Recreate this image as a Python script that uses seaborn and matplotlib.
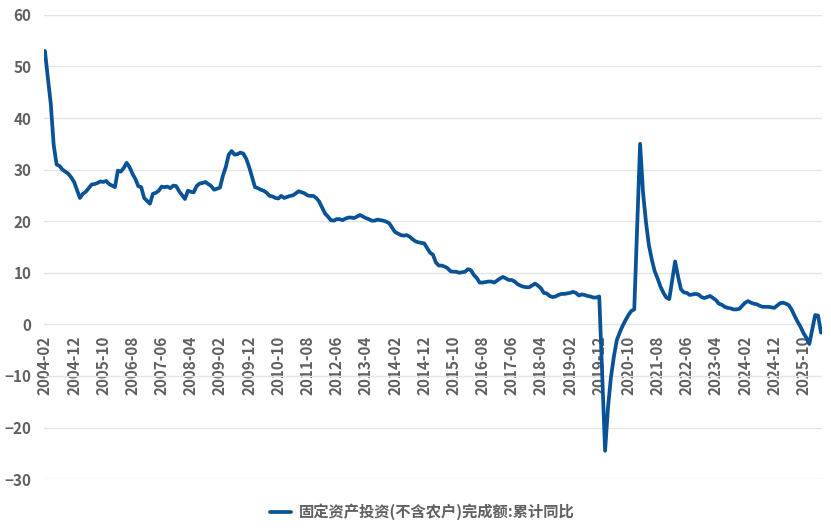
import pandas as pd
import matplotlib
matplotlib.use('Agg')
import matplotlib.pyplot as plt
import seaborn as sns

series_name = '固定资产投资(不含农户)完成额:累计同比'

# cumulative YoY (%), released Feb..Dec each year (January is merged into February)
years = list(range(2004, 2026))
release_months = list(range(2, 13))
yoy = [
    53.0, 47.8, 42.8, 34.8, 31.0, 30.7, 30.0, 29.6, 29.2, 28.5, 27.6,  # 2004
    24.5, 25.3, 25.7, 26.4, 27.1, 27.2, 27.4, 27.7, 27.6, 27.8, 27.2,  # 2005
    26.6, 29.8, 29.6, 30.3, 31.3, 30.5, 29.2, 28.2, 26.8, 26.6, 24.5,  # 2006
    23.4, 25.3, 25.5, 25.9, 26.7, 26.6, 26.7, 26.4, 26.9, 26.8, 25.8,  # 2007
    24.3, 25.9, 25.7, 25.6, 26.8, 27.3, 27.4, 27.6, 27.2, 26.8, 26.1,  # 2008
    26.5, 28.8, 30.5, 32.9, 33.6, 32.9, 33.0, 33.3, 33.1, 32.1, 30.5,  # 2009
    26.6, 26.4, 26.1, 25.9, 25.5, 24.9, 24.8, 24.5, 24.4, 24.9, 24.5,  # 2010
    24.9, 25.0, 25.4, 25.8, 25.6, 25.4, 25.0, 24.9, 24.9, 24.5, 23.8,  # 2011
    21.5, 20.9, 20.2, 20.1, 20.4, 20.4, 20.2, 20.5, 20.7, 20.7, 20.6,  # 2012
    21.2, 20.9, 20.6, 20.4, 20.1, 20.1, 20.3, 20.2, 20.1, 19.9, 19.6,  # 2013
    17.9, 17.6, 17.3, 17.2, 17.3, 17.0, 16.5, 16.1, 15.9, 15.8, 15.7,  # 2014
    13.9, 13.5, 12.0, 11.4, 11.4, 11.2, 10.9, 10.3, 10.2, 10.2, 10.0,  # 2015
    10.2, 10.7, 10.5, 9.6, 9.0, 8.1, 8.1, 8.2, 8.3, 8.3, 8.1,  # 2016
    8.9, 9.2, 8.9, 8.6, 8.6, 8.3, 7.8, 7.5, 7.3, 7.2, 7.2,  # 2017
    7.9, 7.5, 7.0, 6.1, 6.0, 5.5, 5.3, 5.4, 5.7, 5.9, 5.9,  # 2018
    6.1, 6.3, 6.1, 5.6, 5.8, 5.7, 5.5, 5.4, 5.2, 5.2, 5.4,  # 2019
    -24.5, -16.1, -10.3, -6.3, -3.1, -1.6, -0.3, 0.8, 1.8, 2.6, 2.9,  # 2020
    35.0, 25.6, 19.9, 15.4, 12.6, 10.3, 8.9, 7.3, 6.1, 5.2, 4.9,  # 2021
    12.2, 9.3, 6.8, 6.2, 6.1, 5.7, 5.8, 5.9, 5.8, 5.3, 5.1,  # 2022
    5.5, 5.1, 4.7, 4.0, 3.8, 3.4, 3.2, 3.1, 2.9, 2.9, 3.0,  # 2023
    4.2, 4.5, 4.2, 4.0, 3.9, 3.6, 3.4, 3.4, 3.4, 3.3, 3.2,  # 2024
    4.1, 4.2, 4.0, 3.7, 2.8, 1.6, 0.5, -0.5, -1.7, -2.6, -3.8,  # 2025
]
months_2026 = [2, 3, 4]
yoy_2026 = [1.8, 1.7, -1.6]

tick_labels = ['2004-02', '2004-12', '2005-10', '2006-08', '2007-06', '2008-04',
               '2009-02', '2009-12', '2010-10', '2011-08', '2012-06', '2013-04',
               '2014-02', '2014-12', '2015-10', '2016-08', '2017-06', '2018-04',
               '2019-02', '2019-12', '2020-10', '2021-08', '2022-06', '2023-04',
               '2024-02', '2024-12', '2025-10']

# month index counted from 2004-02
rows = []
i = 0
for y in years:
    for m in release_months:
        rows.append(((y - 2004) * 12 + m - 2, yoy[i]))
        i += 1
for m, v in zip(months_2026, yoy_2026):
    rows.append(((2026 - 2004) * 12 + m - 2, v))
df = pd.DataFrame(rows, columns=['idx', 'yoy'])

def label_to_idx(s):
    yy, mm = s.split('-')
    return (int(yy) - 2004) * 12 + int(mm) - 2

sns.set_style('white')
plt.rcParams['font.family'] = ['Noto Sans CJK SC', 'DejaVu Sans']
plt.rcParams['font.weight'] = 'bold'
text_color = '#606060'
line_color = '#0A5296'

fig = plt.figure(figsize=(8.31, 5.30), dpi=100)
ax = fig.add_axes([0.053, 0.096, 0.936, 0.876])

# category axis crosses at zero, like the original
for sp in ax.spines.values():
    sp.set_visible(False)
ax.spines['bottom'].set_position(('data', 0))

sns.lineplot(data=df, x='idx', y='yoy', ax=ax, color=line_color, lw=2.7, label=series_name)

ax.set_ylim(-30, 60)
ax.set_xlim(-0.3, 266.3)
ax.set_yticks(range(-30, 61, 10))
ax.set_xticks([label_to_idx(s) for s in tick_labels])
ax.set_xticklabels(tick_labels)
ax.set_xlabel('')
ax.set_ylabel('')

ax.yaxis.grid(True, color='#e4e4e4', lw=1)
ax.set_axisbelow(True)
ax.tick_params(axis='both', length=0, labelsize=11, labelcolor=text_color)
ax.tick_params(axis='y', pad=9)
ax.tick_params(axis='x', pad=8, labelrotation=90)

handles, labels = ax.get_legend_handles_labels()
ax.get_legend().remove()
fig.legend(handles, labels, loc='center', bbox_to_anchor=(0.508, 0.034), frameon=False,
           fontsize=11, labelcolor=text_color, handlelength=1.4, handletextpad=0.5)

fig.savefig('out.png', dpi=100)
